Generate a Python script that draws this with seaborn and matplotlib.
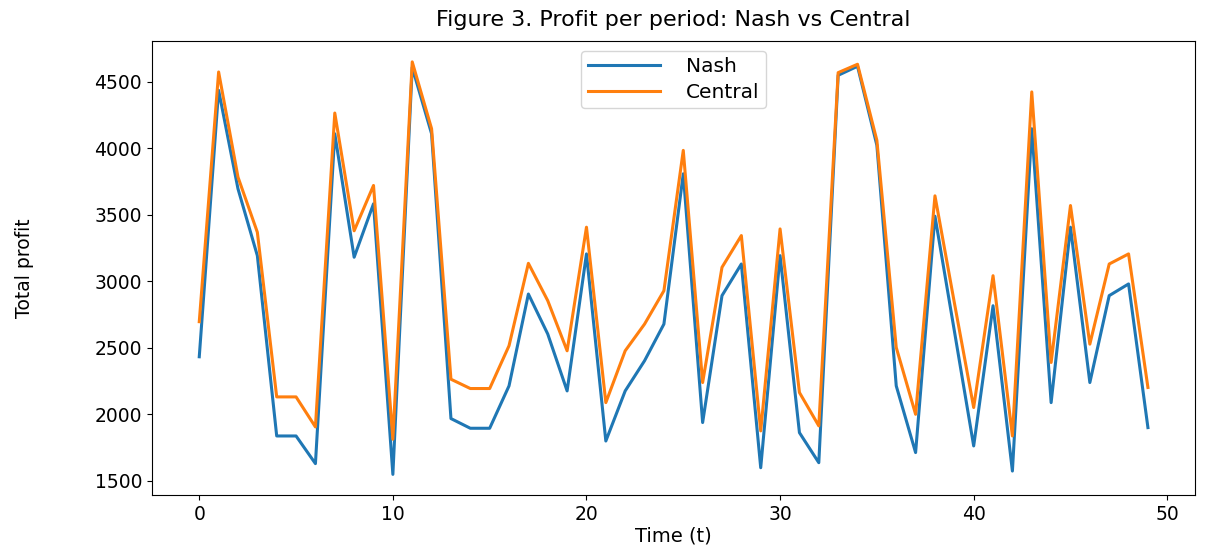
import numpy as np
import pandas as pd
import matplotlib
matplotlib.use("Agg")
import matplotlib.pyplot as plt
import seaborn as sns

# profit per period
periods = list(range(50))
nash = [2432, 4437, 3696, 3193, 1836, 1836, 1628, 4110, 3181, 3583,
        1547, 4610, 4110, 1967, 1894, 1894, 2213, 2904, 2603, 2175,
        3206, 1798, 2175, 2402, 2678, 3809, 1937, 2892, 3130, 1597,
        3193, 1861, 1635, 4550, 4618, 4023, 2213, 1711, 3490, 2628,
        1761, 2816, 1572, 4148, 2087, 3407, 2238, 2892, 2980, 1899]
central = [2696, 4575, 3784, 3369, 2130, 2130, 1904, 4266, 3380, 3721,
           1811, 4651, 4148, 2263, 2193, 2193, 2515, 3135, 2854, 2477,
           3407, 2087, 2477, 2678, 2929, 3985, 2238, 3105, 3344, 1874,
           3394, 2163, 1912, 4570, 4633, 4060, 2502, 1999, 3643, 2840,
           2050, 3042, 1836, 4425, 2389, 3570, 2527, 3130, 3206, 2201]

df = pd.DataFrame({"t": periods * 2,
                   "profit": nash + central,
                   "policy": ["Nash"] * 50 + ["Central"] * 50})

fig, ax = plt.subplots(figsize=(12.05, 5.5), dpi=100)
fig.subplots_adjust(left=0.126, right=0.992, top=0.925, bottom=0.1)

sns.lineplot(data=df, x="t", y="profit", hue="policy",
             palette=["#1f77b4", "#ff7f0e"], linewidth=2.2, ax=ax)

ax.set_title("Figure 3. Profit per period: Nash vs Central", fontsize=16, pad=11)
ax.set_xlabel("Time (t)", fontsize=14, labelpad=2)
ax.set_ylabel("Total profit", fontsize=13.5)
ax.yaxis.set_label_coords(-0.113, 0.5)
ax.tick_params(labelsize=13.5)
ax.set_xticks([0, 10, 20, 30, 40, 50])
ax.legend(loc="upper center", fontsize=14.5, handlelength=3.6,
          handletextpad=1.3, borderpad=0.3, labelspacing=0.35,
          borderaxespad=0.5)

plt.savefig("out.png", dpi=100)
